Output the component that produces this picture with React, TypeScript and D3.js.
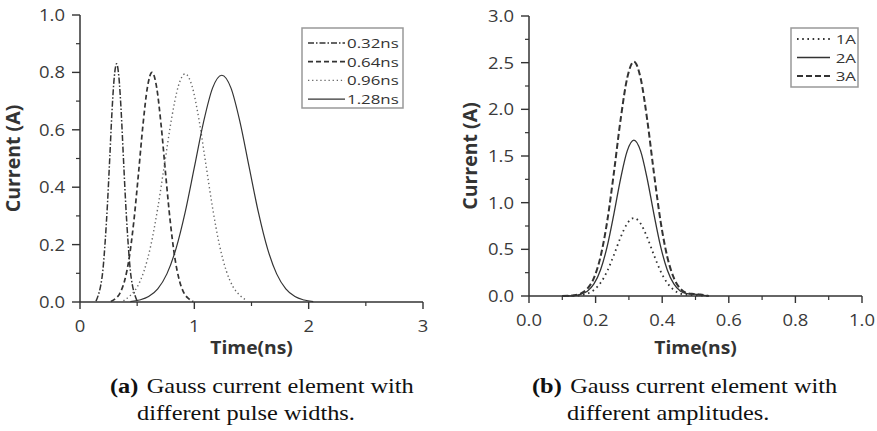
import React from "react";
import * as d3 from "d3";

// the source figure is stretched sideways, so text gets a horizontal scale
const SX = 1.2;

// panel (a): Gauss current element, different pulse widths (peak ~0.8 A)
const widthLabels = ["0.32ns", "0.64ns", "0.96ns", "1.28ns"];
const time032 = [0.14, 0.16, 0.18, 0.2, 0.22, 0.24, 0.26, 0.28, 0.3, 0.32, 0.34, 0.36, 0.38, 0.4, 0.42, 0.44, 0.46, 0.48, 0.5];
const current032 = [0.003, 0.024, 0.055, 0.11, 0.21, 0.34, 0.5, 0.665, 0.785, 0.83, 0.785, 0.665, 0.5, 0.34, 0.21, 0.11, 0.055, 0.024, 0.003];
const time064 = [0.27, 0.31, 0.35, 0.39, 0.43, 0.47, 0.51, 0.55, 0.59, 0.63, 0.67, 0.71, 0.75, 0.79, 0.83, 0.87, 0.91, 0.95, 0.99];
const current064 = [0.002, 0.012, 0.031, 0.074, 0.153, 0.278, 0.441, 0.614, 0.749, 0.8, 0.749, 0.614, 0.441, 0.278, 0.153, 0.074, 0.031, 0.012, 0.002];
const time096 = [0.38, 0.44, 0.5, 0.56, 0.62, 0.68, 0.74, 0.8, 0.86, 0.92, 0.98, 1.04, 1.1, 1.16, 1.22, 1.28, 1.34, 1.4, 1.46];
const current096 = [0.004, 0.023, 0.052, 0.108, 0.198, 0.327, 0.482, 0.637, 0.752, 0.795, 0.752, 0.637, 0.482, 0.327, 0.198, 0.108, 0.052, 0.023, 0.004];
const time128 = [0.44, 0.52, 0.6, 0.68, 0.76, 0.84, 0.92, 1.0, 1.08, 1.16, 1.24, 1.32, 1.4, 1.48, 1.56, 1.64, 1.72, 1.8, 1.88, 1.96, 2.04];
const current128 = [0.001, 0.007, 0.019, 0.046, 0.098, 0.186, 0.313, 0.469, 0.626, 0.746, 0.79, 0.746, 0.626, 0.469, 0.313, 0.186, 0.098, 0.046, 0.019, 0.007, 0.001];

// panel (b): Gauss current element, different amplitudes
const ampLabels = ["1A", "2A", "3A"];
const timeAmp = [0.1, 0.135, 0.155, 0.175, 0.195, 0.215, 0.235, 0.255, 0.275, 0.295, 0.315, 0.335, 0.355, 0.375, 0.395, 0.415, 0.435, 0.455, 0.475, 0.495, 0.515, 0.54];
const current1A = [0, 0.003, 0.009, 0.025, 0.064, 0.141, 0.267, 0.44, 0.628, 0.777, 0.835, 0.777, 0.628, 0.44, 0.267, 0.141, 0.064, 0.025, 0.012, 0.008, 0.005, 0];
const current2A = [0, 0.005, 0.018, 0.051, 0.129, 0.282, 0.534, 0.88, 1.256, 1.555, 1.67, 1.555, 1.256, 0.88, 0.534, 0.282, 0.129, 0.051, 0.025, 0.02, 0.012, 0];
const current3A = [0, 0.008, 0.026, 0.077, 0.193, 0.424, 0.803, 1.323, 1.888, 2.337, 2.51, 2.337, 1.888, 1.323, 0.803, 0.424, 0.193, 0.077, 0.03, 0.022, 0.015, 0];

const INK = "#333";
const SANS = "'Open Sans', 'Liberation Sans', sans-serif";
const SERIF = "'Liberation Serif', 'Times New Roman', serif";

const toPoints = (ts, vs) => ts.map((t, i) => [t, vs[i]]);

// minor ticks = midpoints between majors
const midTicks = (major) => major.slice(1).map((v, i) => (v + major[i]) / 2);

const Txt = ({ x, y, anchor = "start", size, weight = 400, family = SANS, fill = INK, rotate = false, sx = SX, children }) => (
  <text
    transform={rotate ? `translate(${x},${y}) rotate(-90)` : `translate(${x},${y}) scale(${sx},1)`}
    textAnchor={anchor}
    fontSize={size}
    fontWeight={weight}
    fontFamily={family}
    fill={fill}
  >
    {children}
  </text>
);

const Panel = ({ box, xDomain, yDomain, xTickCount, yTickCount, xFmt, yFmt, series, legend }) => {
  const x = d3.scaleLinear().domain(xDomain).range([box.left, box.right]);
  const y = d3.scaleLinear().domain(yDomain).range([box.bottom, box.top]);
  const line = d3.line().x((d) => x(d[0])).y((d) => y(d[1])).curve(d3.curveMonotoneX);

  const xMajor = x.ticks(xTickCount);
  const yMajor = y.ticks(yTickCount);
  const xMinor = midTicks(xMajor);
  const yMinor = midTicks(yMajor);

  return (
    <g>
      {series.map((s, i) => (
        <path key={i} d={line(s.points)} fill="none" stroke={s.color || INK} strokeWidth={s.width} strokeDasharray={s.dash} />
      ))}

      {/* axes */}
      <line x1={box.left} x2={box.right} y1={box.bottom} y2={box.bottom} stroke={INK} strokeWidth={1.5} />
      <line x1={box.left} x2={box.left} y1={box.top} y2={box.bottom} stroke={INK} strokeWidth={1.5} />
      {xMajor.map((t) => (
        <g key={"xm" + t}>
          <line x1={x(t)} x2={x(t)} y1={box.bottom} y2={box.bottom + 7} stroke={INK} strokeWidth={1.4} />
          <Txt x={x(t)} y={box.bottom + 30} anchor="middle" size={16.5} sx={1.12} fill="#3a3a3a">{xFmt(t)}</Txt>
        </g>
      ))}
      {xMinor.map((t) => (
        <line key={"xn" + t} x1={x(t)} x2={x(t)} y1={box.bottom} y2={box.bottom + 4} stroke={INK} strokeWidth={1.2} />
      ))}
      {yMajor.map((v) => (
        <g key={"ym" + v}>
          <line x1={box.left - 8} x2={box.left} y1={y(v)} y2={y(v)} stroke={INK} strokeWidth={1.4} />
          <Txt x={box.left - 15} y={y(v) + 6} anchor="end" size={16.5} sx={1.12} fill="#3a3a3a">{yFmt(v)}</Txt>
        </g>
      ))}
      {yMinor.map((v) => (
        <line key={"yn" + v} x1={box.left - 4} x2={box.left} y1={y(v)} y2={y(v)} stroke={INK} strokeWidth={1.2} />
      ))}

      <Txt x={(box.left + box.right) / 2} y={354} anchor="middle" size={17.5} weight={700} sx={1.1}>Time(ns)</Txt>
      <Txt x={box.titleX} y={(box.top + box.bottom) / 2} anchor="middle" size={19.5} weight={700} rotate>Current (A)</Txt>

      {/* legend */}
      <rect x={legend.x} y={legend.y} width={legend.w} height={legend.h} fill="#fff" stroke="#999" strokeWidth={1.5} />
      {series.map((s, i) => {
        const cy = legend.y + legend.first + i * legend.pitch;
        return (
          <g key={"lg" + i}>
            <line x1={legend.lineX1} x2={legend.lineX2} y1={cy} y2={cy} stroke={s.color || INK} strokeWidth={s.width} strokeDasharray={s.dash} />
            <Txt x={legend.textX} y={cy + 5} anchor={legend.anchor} size={13.5} sx={1.25}>{s.label}</Txt>
          </g>
        );
      })}
    </g>
  );
};

export default function App() {
  const seriesA = [
    { label: widthLabels[0], points: toPoints(time032, current032), dash: "6,2,1.5,2", width: 1.5 },
    { label: widthLabels[1], points: toPoints(time064, current064), dash: "5,3", width: 1.7 },
    { label: widthLabels[2], points: toPoints(time096, current096), dash: "1.3,2.8", width: 1.4, color: "#666" },
    { label: widthLabels[3], points: toPoints(time128, current128), dash: null, width: 1.2 },
  ];
  const seriesB = [
    { label: ampLabels[0], points: toPoints(timeAmp, current1A), dash: "1.6,3.6", width: 1.8 },
    { label: ampLabels[1], points: toPoints(timeAmp, current2A), dash: null, width: 1.3 },
    { label: ampLabels[2], points: toPoints(timeAmp, current3A), dash: "6,3", width: 2 },
  ];

  return (
    <svg width={877} height={431} style={{ position: "absolute", left: 0, top: 0, background: "#fff" }}>
      <Panel
        box={{ left: 80, right: 423, top: 15, bottom: 302, titleX: 20 }}
        xDomain={[0, 3]}
        yDomain={[0, 1]}
        xTickCount={3}
        yTickCount={5}
        xFmt={d3.format("d")}
        yFmt={d3.format(".1f")}
        series={seriesA}
        legend={{ x: 302, y: 28, w: 101, h: 80, first: 15, pitch: 18.7, lineX1: 308, lineX2: 345, textX: 347, anchor: "start" }}
      />
      <Panel
        box={{ left: 529, right: 862, top: 16, bottom: 296, titleX: 477 }}
        xDomain={[0, 1]}
        yDomain={[0, 3]}
        xTickCount={5}
        yTickCount={6}
        xFmt={d3.format(".1f")}
        yFmt={d3.format(".1f")}
        series={seriesB}
        legend={{ x: 791, y: 28, w: 67, h: 59, first: 11, pitch: 18.5, lineX1: 797, lineX2: 830, textX: 856, anchor: "end" }}
      />

      <Txt x={110} y={393} size={20.3} family={SERIF} fill="#111">
        <tspan fontWeight="bold">(a)</tspan>
        <tspan dx={7}>Gauss current element with</tspan>
      </Txt>
      <Txt x={137} y={420} size={20.3} family={SERIF} fill="#111">different pulse widths.</Txt>
      <Txt x={532} y={393} size={20.3} family={SERIF} fill="#111">
        <tspan fontWeight="bold">(b)</tspan>
        <tspan dx={7}>Gauss current element with</tspan>
      </Txt>
      <Txt x={567} y={420} size={20.3} family={SERIF} fill="#111">different amplitudes.</Txt>
    </svg>
  );
}
